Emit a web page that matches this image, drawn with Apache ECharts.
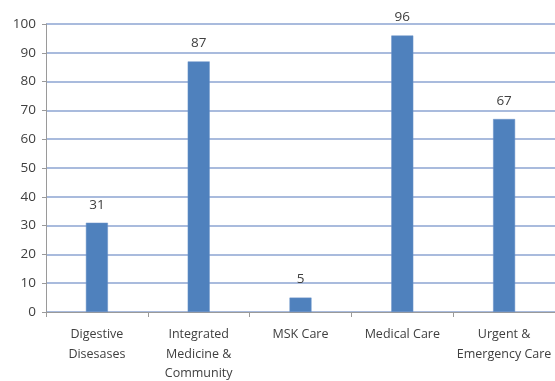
<!DOCTYPE html>
<html><head><meta charset="utf-8">
<script src="https://cdn.jsdelivr.net/npm/echarts@6/dist/echarts.min.js"></script>
<style>html,body{margin:0;padding:0;background:#fff}#c{width:555px;height:381px}</style>
</head><body><div id="c"></div>
<script>
const categories = ['Digestive\nDisesases', 'Integrated\nMedicine &\nCommunity', 'MSK Care', 'Medical Care', 'Urgent &\nEmergency Care'];
const values = [31, 87, 5, 96, 67];
const yTicks = [0, 10, 20, 30, 40, 50, 60, 70, 80, 90, 100];

const chart = echarts.init(document.getElementById('c'), null, {renderer: 'canvas'});
const font = 'Open Sans';
chart.setOption({
  animation: false,
  grid: {left: 46, right: 0, top: 24, bottom: 69, outerBoundsMode: 'none', containLabel: false},
  xAxis: {
    type: 'category',
    data: categories,
    axisLine: {show: true, lineStyle: {color: '#9a9a9a', width: 1}},
    axisTick: {show: true, length: 5, lineStyle: {color: '#9a9a9a'}},
    axisLabel: {color: '#404040', fontFamily: font, fontSize: 12.5, lineHeight: 19.5, margin: 13, interval: 0}
  },
  yAxis: {
    type: 'value',
    min: yTicks[0], max: yTicks[yTicks.length - 1], interval: 10,
    axisLine: {show: true, lineStyle: {color: '#9a9a9a', width: 1}},
    axisTick: {show: true, length: 4, lineStyle: {color: '#9a9a9a'}},
    axisLabel: {color: '#404040', fontFamily: font, fontSize: 13.5, margin: 10},
    splitLine: {show: true, lineStyle: {color: '#A9BBDD', width: 2}}
  },
  series: [{
    type: 'bar',
    data: values,
    barWidth: 22,
    itemStyle: {color: '#4F81BD', borderColor: '#6A93C8', borderWidth: 0.5},
    label: {show: true, position: 'top', distance: 11, color: '#404040', fontFamily: font, fontSize: 13.5}
  }]
});
</script></body></html>
